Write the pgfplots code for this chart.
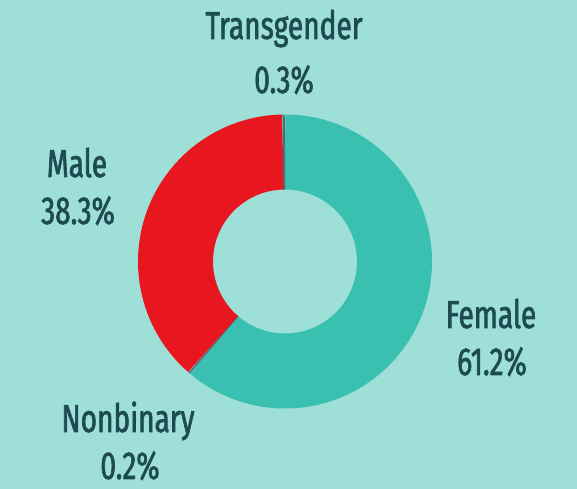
\documentclass[border=0pt]{standalone}
\usepackage{pgfplots}
\usepackage{pgfplotstable}
\pgfplotsset{compat=1.18}
\usepackage{fontspec}
\setmainfont{Fira Sans}[FakeStretch=0.72, FakeBold=1.6]
\definecolor{bgc}{HTML}{9EE0D8}
\definecolor{femc}{HTML}{3AC0B0}
\definecolor{malec}{HTML}{E8161E}
\definecolor{othc}{HTML}{4F6B78}
\definecolor{txtc}{HTML}{1E4B52}
\pgfplotstableread{
label value
Female 61.2
Nonbinary 0.2
Male 38.3
Transgender 0.3
}\gendertable
\pgfplotstablegetelem{0}{value}\of\gendertable \let\vF\pgfplotsretval
\pgfplotstablegetelem{1}{value}\of\gendertable \let\vN\pgfplotsretval
\pgfplotstablegetelem{2}{value}\of\gendertable \let\vM\pgfplotsretval
\pgfplotstablegetelem{3}{value}\of\gendertable \let\vT\pgfplotsretval
\pgfmathsetmacro{\aA}{90}
\pgfmathsetmacro{\aB}{\aA-3.6*\vF}
\pgfmathsetmacro{\aC}{\aB-3.6*\vN}
\pgfmathsetmacro{\aD}{\aC-3.6*\vM}
\pgfmathsetmacro{\aE}{\aD-3.6*\vT}
\def\cx{285}\def\cy{227.5}\def\rm{109.5}
\begin{document}
\begin{tikzpicture}
\useasboundingbox (0,0) rectangle (577bp,489bp);
\fill[bgc] (0,0) rectangle (577bp,489bp);
\begin{axis}[
  at={(0,0)}, anchor=south west,
  width=577bp, height=489bp, scale only axis,
  xmin=0, xmax=577, ymin=0, ymax=489,
  hide axis, clip=false,
]
\addplot[femc, line width=75bp, domain=\aB:\aA, samples=120, smooth] ({\cx+\rm*cos(x)},{\cy+\rm*sin(x)});
\addplot[othc, line width=75bp, domain=\aC:\aB, samples=3] ({\cx+\rm*cos(x)},{\cy+\rm*sin(x)});
\addplot[malec, line width=75bp, domain=\aD:\aC, samples=80, smooth] ({\cx+\rm*cos(x)},{\cy+\rm*sin(x)});
\addplot[othc, line width=75bp, domain=\aE:\aD, samples=3] ({\cx+\rm*cos(x)},{\cy+\rm*sin(x)});
\begin{scope}[every node/.style={anchor=base, text=txtc, font=\fontsize{39bp}{43bp}\selectfont, inner sep=0pt}]
\node at (axis cs:284,450) {Transgender};
\node at (axis cs:284,396) {0.3\%};
\node at (axis cs:77,312) {Male};
\node at (axis cs:78,265) {38.3\%};
\node at (axis cs:491,161) {Female};
\node at (axis cs:492,114) {61.2\%};
\node at (axis cs:128,57) {Nonbinary};
\node at (axis cs:130,10) {0.2\%};
\end{scope}
\end{axis}
\end{tikzpicture}
\end{document}
